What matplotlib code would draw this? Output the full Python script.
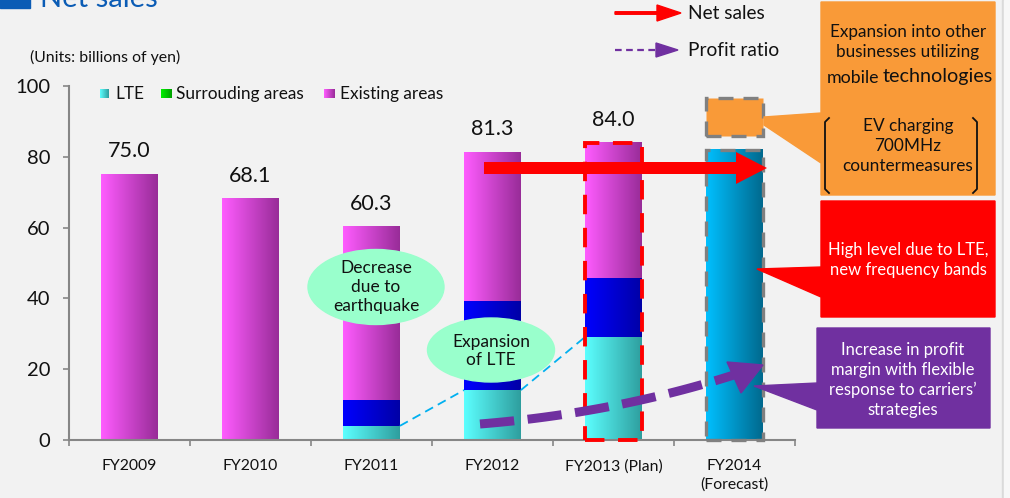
import numpy as np
import matplotlib
matplotlib.use("Agg")
import matplotlib.pyplot as plt
from matplotlib.patches import Rectangle, Polygon, Ellipse, FancyArrow
from matplotlib.colors import to_rgb

plt.rcParams['font.family'] = ['Lato', 'DejaVu Sans']

# ---- data (billions of yen) ----
years = ['FY2009', 'FY2010', 'FY2011', 'FY2012', 'FY2013 (Plan)', 'FY2014\n(Forecast)']
lte = [0.0, 0.0, 4.0, 14.1, 29.1]
surrounding = [0.0, 0.0, 7.3, 25.2, 16.7]
existing = [75.0, 68.1, 49.0, 42.0, 38.2]
totals = [75.0, 68.1, 60.3, 81.3, 84.0]
forecast_total = 82.0
new_business_band = (86.0, 96.6)

BG = '#F2F2F2'
W = 0.47
TXT = '#111111'

fig = plt.figure(figsize=(10.1, 4.98), dpi=100, facecolor=BG)
ax = fig.add_axes([69/1010, 58/498, 726/1010, 354/498])
ax.set_facecolor(BG)


def gradient_fill(axis, rect, c_left, c_right, z):
    x, y = rect.get_x(), rect.get_y()
    w, h = rect.get_width(), rect.get_height()
    if h <= 0:
        return
    a, b = np.array(to_rgb(c_left)), np.array(to_rgb(c_right))
    t = np.linspace(0, 1, 256)[None, :, None]
    img = a + (b - a) * t
    axis.imshow(img, extent=[x, x + w, y, y + h], aspect='auto',
                interpolation='bilinear', zorder=z)


xs = np.arange(len(totals))
b_lte = ax.bar(xs, lte, W, color='#40E0E0', zorder=1)
b_sur = ax.bar(xs, surrounding, W, bottom=lte, color='#0000D0', zorder=1)
bottom_ex = np.array(lte) + np.array(surrounding)
b_ex = ax.bar(xs, existing, W, bottom=bottom_ex, color='#D040D0', zorder=1)
b_fc = ax.bar([5], [forecast_total], W, color='#0090C0', zorder=1)

for r in b_lte:
    gradient_fill(ax, r, '#5CFFFF', '#2E9E9E', 2)
for r in b_sur:
    gradient_fill(ax, r, '#0000FF', '#0000A6', 2)
for r in b_ex:
    gradient_fill(ax, r, '#FF5CFF', '#982C98', 2)
for r in b_fc:
    gradient_fill(ax, r, '#00C0FF', '#00698E', 2)

# value labels
for x, v in zip(xs, totals):
    ax.text(x, v + 6.5, f'{v:.1f}', ha='center', va='center', fontsize=15.5,
            color=TXT, zorder=6)

# dashed connectors between LTE tops
for i in (2, 3):
    ax.plot([i + W/2, i + 1 - W/2], [lte[i], lte[i + 1]], color='#00B0F0',
            lw=1.3, ls=(0, (5, 3)), zorder=3)

# plan and forecast outlines
ax.add_patch(Rectangle((4 - W/2, 0), W, totals[4], fill=False, edgecolor='#FF0000',
                       lw=2.8, ls=(0, (5, 3.5)), zorder=5, clip_on=False))
ax.add_patch(Rectangle((5 - W/2, 0), W, forecast_total, fill=False, edgecolor='#808080',
                       lw=2.4, ls=(0, (4.5, 3)), zorder=5, clip_on=False))
ax.add_patch(Rectangle((5 - W/2, new_business_band[0]), W,
                       new_business_band[1] - new_business_band[0],
                       facecolor='#F99A38', edgecolor='#808080', lw=2.4,
                       ls=(0, (4.5, 3)), zorder=5, clip_on=False))

# axes styling
ax.set_xlim(-0.5, 5.5)
ax.set_ylim(0, 100)
ax.set_yticks([0, 20, 40, 60, 80, 100])
ax.tick_params(axis='y', labelsize=14.5, length=4.5, width=1.2, color='#868686',
               pad=9, labelcolor=TXT)
ax.set_xticks(np.arange(-0.5, 6.0, 1.0))
ax.set_xticklabels([])
ax.tick_params(axis='x', which='major', length=4.5, width=1.2, color='#868686')
ax.set_xticks(np.arange(6), minor=True)
ax.set_xticklabels(years, minor=True, fontsize=11.3, color=TXT,
                   linespacing=1.35, va='top')
ax.tick_params(axis='x', which='minor', length=0, pad=14)
for s in ('top', 'right'):
    ax.spines[s].set_visible(False)
for s in ('left', 'bottom'):
    ax.spines[s].set_color('#868686')
    ax.spines[s].set_linewidth(1.5)

# ---- overlay in pixel coordinates ----
ov = fig.add_axes([0, 0, 1, 1], zorder=10)
ov.set_xlim(0, 1010)
ov.set_ylim(498, 0)
ov.axis('off')
ov.patch.set_alpha(0)

# section heading
ov.add_patch(Rectangle((0, -20), 30, 28, color='#0B5CB5', clip_on=False))
ov.text(40, 7, 'Net sales', fontsize=21, color='#0B5CB5', va='baseline', ha='left')

ov.text(30, 57, '(Units: billions of yen)', fontsize=11.4, color=TXT,
        va='center', ha='left')


def ov_grad(x0, y0, w, h, c1, c2):
    a, b = np.array(to_rgb(c1)), np.array(to_rgb(c2))
    t = np.linspace(0, 1, 64)[None, :, None]
    ov.imshow(a + (b - a) * t, extent=[x0, x0 + w, y0 + h, y0], aspect='auto',
              interpolation='bilinear', zorder=3)


# series legend
ov_grad(100, 89, 9, 9, '#5CFFFF', '#2E9E9E')
ov.text(115, 93.5, 'LTE', fontsize=12.4, va='center', color=TXT)
ov_grad(161, 89, 11, 9, '#00F000', '#00A000')
ov.text(176, 93.5, 'Surrouding areas', fontsize=12.4, va='center', color=TXT)
ov_grad(324, 89, 11, 9, '#FF5CFF', '#982C98')
ov.text(340, 93.5, 'Existing areas', fontsize=12.4, va='center', color=TXT)

# arrow legend
ov.add_patch(FancyArrow(615, 13, 66, 0, width=2.5, head_width=16, head_length=24,
                        length_includes_head=True, color='#FF0000', zorder=4))
ov.text(688, 13, 'Net sales', fontsize=13.8, va='center', color=TXT)
ov.plot([615, 657], [50, 50], color='#7030A0', lw=1.6, ls=(0, (3, 2)), zorder=4)
ov.add_patch(Polygon([(656, 43), (678, 50), (656, 57)], color='#7030A0', zorder=4))
ov.text(688, 50, 'Profit ratio', fontsize=13.8, va='center', color=TXT)

# ellipses
ov.add_patch(Ellipse((376, 287), 136, 75, color='#99FFCC', zorder=4))
ov.text(376, 287, 'Decrease\ndue to\nearthquake', fontsize=12.5, ha='center',
        va='center', linespacing=1.22, color=TXT, zorder=5)
ov.add_patch(Ellipse((491, 350), 127, 64, color='#99FFCC', zorder=4))
ov.text(491, 351, 'Expansion\nof LTE', fontsize=12.5, ha='center', va='center',
        linespacing=1.22, color=TXT, zorder=5)

# net sales arrow
ov.add_patch(FancyArrow(484, 168, 283, 0, width=12, head_width=32, head_length=31,
                        length_includes_head=True, color='#FF0000', lw=0, zorder=6))

# profit ratio arrow (dashed curve + head)
p0, p1, p2 = np.array([480, 424]), np.array([617, 413]), np.array([740, 373])
t = np.linspace(0, 1, 100)[:, None]
curve = (1 - t)**2 * p0 + 2 * (1 - t) * t * p1 + t**2 * p2
ov.plot(curve[:, 0], curve[:, 1], color='#7030A0', lw=6.5, ls=(0, (3.8, 1.5)),
        solid_capstyle='butt', dash_capstyle='butt', zorder=6)
ov.add_patch(Polygon([(727, 362), (763, 365), (741, 393)], color='#7030A0', zorder=6))

# callout boxes
orange = '#F99A38'
ov.add_patch(Polygon([(821, 2), (995, 2), (995, 195), (821, 195), (821, 163),
                      (764, 125), (764, 117), (821, 113)], color=orange, zorder=3))
ov.text(908, 42, 'Expansion into other\nbusinesses utilizing', fontsize=12.3,
        ha='center', va='center', linespacing=1.3, color=TXT, zorder=5)
ov.text(879, 78, 'mobile', fontsize=12.8, ha='right', va='center', color=TXT)
ov.text(883, 76, 'technologies', fontsize=14.2, ha='left', va='center', color=TXT)
ov.text(908, 146, 'EV charging\n700MHz\ncountermeasures', fontsize=12.4,
        ha='center', va='center', linespacing=1.3, color=TXT, zorder=5)
for xa, xb in ((829, 825), (973, 977)):
    ov.plot([xa, xb, xb, xa], [118, 122, 189, 193], color=TXT, lw=1.3, zorder=5)

ov.add_patch(Polygon([(821, 201), (995, 201), (995, 317), (821, 317), (821, 297),
                      (757, 269), (821, 267)], color='#FF0000', zorder=3))
ov.text(908, 260, 'High level due to LTE,\nnew frequency bands', fontsize=12,
        ha='center', va='center', linespacing=1.3, color='white', zorder=5)

ov.add_patch(Polygon([(817, 328), (990, 328), (990, 428), (817, 428), (817, 410),
                      (754, 386), (817, 383)], color='#7030A0', zorder=3))
ov.text(903, 380, 'Increase in profit\nmargin with flexible\nresponse to carriers\u2019\nstrategies',
        fontsize=12, ha='center', va='center', linespacing=1.3, color='white', zorder=5)

# right page edge
ov.add_patch(Rectangle((1002, 0), 2, 498, color='#DADADA', zorder=2))
ov.add_patch(Rectangle((1004, 0), 6, 498, color='#F7F7F7', zorder=2))

fig.savefig('out.png', dpi=100, facecolor=BG)
